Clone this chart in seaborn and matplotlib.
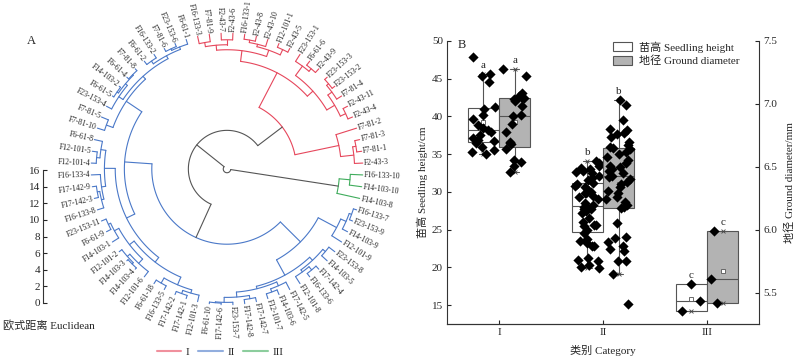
import numpy as np
import pandas as pd
import matplotlib
matplotlib.use('Agg')
import matplotlib.pyplot as plt
import matplotlib.transforms as mtransforms
from matplotlib.patches import Patch
from matplotlib.lines import Line2D
import seaborn as sns

sns.set_style('ticks')
plt.rcParams['font.family'] = ['Liberation Serif', 'Noto Sans CJK SC']
plt.rcParams['font.size'] = 8
np.random.seed(7)

# ---------------- data: dendrogram (A) ----------------
# leaves clockwise, starting just below 3 o'clock
leaves = ['F16-133-10', 'F14-103-10', 'F14-103-8',
          'F16-133-7', 'F23-153-9', 'F14-103-9', 'F12-101-9', 'F23-153-8', 'F14-103-5',
          'F17-142-4', 'F16-133-6', 'F12-101-8', 'F17-142-5', 'F14-103-6', 'F12-101-7',
          'F17-142-7', 'F17-142-8', 'F23-153-7', 'F17-142-6', 'F6-61-10', 'F12-101-3',
          'F17-142-1', 'F17-142-2', 'F16-133-5', 'F6-61-18', 'F12-101-6', 'F14-103-4',
          'F14-103-3', 'F12-101-2', 'F14-103-1', 'F6-61-9', 'F23-153-11', 'F16-133-8',
          'F17-142-3', 'F17-142-9', 'F16-133-4', 'F12-101-4', 'F12-101-5', 'F6-61-8',
          'F7-81-10', 'F7-81-5', 'F23-153-4', 'F6-61-5', 'F14-103-2', 'F6-61-4',
          'F7-81-8', 'F6-61-2', 'F16-133-2', 'F7-81-6', 'F23-153-6', 'F6-61-1',
          'F16-133-3', 'F7-81-9', 'F2-43-7', 'F2-43-6', 'F16-133-1', 'F2-43-8',
          'F2-43-10', 'F12-101-1', 'F2-43-5', 'F23-153-1', 'F6-61-6', 'F2-43-9',
          'F23-153-3', 'F23-153-2', 'F7-81-4', 'F2-43-11', 'F2-43-4', 'F7-81-2',
          'F7-81-3', 'F7-81-1', 'F2-43-3']
clusters = ['III'] * 3 + ['II'] * 48 + ['I'] * 21

# merges: (left, right, euclidean height); ints are leaf indices
tree_III = ((0, 1, 1.5), 2, 2.8)

R1 = (((3, 4, 0.4), 5, 0.7), 6, 1.4)
R2a = ((7, 8, 0.9), ((9, 10, 0.5), 11, 1.0), 1.3)
R2b = ((12, (13, 14, 0.6), 1.0), ((15, 16, 0.5), (17, (18, 19, 0.2), 0.3), 0.9), 1.5)
tree_IIR = (R1, (R2a, R2b, 1.8), 3.9)

Lb1 = ((20, (21, 22, 0.4), 0.8), (23, 24, 0.5), 1.2)
Lb2 = ((25, ((26, 27, 0.2), 28, 0.4), 0.8), (29, (30, 31, 0.6), 0.9), 1.5)
Lb3 = (((32, (33, 34, 0.5), 0.8), 35, 1.1), ((36, 37, 0.6), 38, 1.0), 1.6)
Lrest = ((41, ((42, 43, 0.2), (44, 45, 0.3), 0.4), 0.7),
         ((46, 47, 0.5), ((48, 49, 0.4), 50, 0.6), 0.9), 1.3)
La = ((39, 40, 0.9), Lrest, 1.75)
tree_IIL = (((Lb1, Lb2, 2.2), Lb3, 2.9), La, 4.0)
tree_II = (tree_IIR, tree_IIL, 7.3)

A1a = ((51, 52, 0.9), (53, 54, 0.8), 1.4)
A1b = (((55, 56, 0.6), 57, 0.9), (58, 59, 0.5), 1.2)
A2a = (60, (61, 62, 0.6), 1.0)
A2b = (((63, 64, 0.4), 65, 0.7), (66, 67, 0.6), 1.3)
B = (68, ((69, 70, 0.6), 71, 1.0), 2.6)
tree_I = (((A1a, A1b, 2.0), (A2a, A2b, 2.4), 3.3), B, 8.0)

tree = (tree_III, (tree_II, tree_I, 11.7), 15.9)

# ---------------- data: boxplots (B) ----------------
cats = ['I', 'II', 'III']
height_I = [47.9, 45.6, 45.3, 44.6, 41.2, 41.0, 40.2, 39.7, 38.9, 38.5, 38.2,
            38.0, 37.6, 37.2, 36.9, 36.7, 36.5, 35.9, 35.5, 35.3, 35.0]
height_II = [19.9, 20.0, 20.3, 20.8, 21.0, 21.3, 22.8, 22.9, 23.2, 23.5, 23.8, 24.6,
             25.0, 25.5, 25.6, 25.6, 26.0, 26.6, 27.2, 27.5, 27.7, 27.8, 28.0, 28.1,
             28.3, 28.5, 29.0, 29.3, 29.5, 29.8, 29.9, 30.0, 30.3, 30.6, 30.8, 31.1,
             31.2, 31.6, 31.9, 32.1, 32.5, 32.7, 32.8, 33.0, 33.2, 33.5, 33.9, 34.1]
height_III = [17.8, 15.6, 14.2]
diam_I = [6.46, 6.51, 6.54, 6.55, 6.64, 6.68, 6.69, 6.70, 6.78, 6.84, 6.90,
          6.91, 6.98, 7.02, 7.04, 7.05, 7.05, 7.06, 7.09, 7.22, 7.28]
diam_II = [5.41, 5.65, 5.75, 5.75, 5.83, 5.85, 5.87, 5.90, 5.93, 5.94, 6.05, 6.17,
           6.18, 6.20, 6.22, 6.24, 6.26, 6.29, 6.31, 6.34, 6.36, 6.38, 6.40, 6.42,
           6.43, 6.45, 6.47, 6.48, 6.50, 6.51, 6.53, 6.55, 6.58, 6.60, 6.62, 6.64,
           6.65, 6.66, 6.67, 6.70, 6.74, 6.76, 6.77, 6.79, 6.80, 6.87, 6.99, 7.03]
diam_III = [5.99, 5.61, 5.42]
sig_height = ['a', 'b', 'c']
sig_diam = ['a', 'b', 'c']

# ---------------- style ----------------
pal = {'I': '#e6475c', 'II': '#4a78c8', 'III': '#3fac5c'}
ROOT_C = '#555555'
EDGE = '#555555'
GRAY = '#b3b3b3'
W, H = 800, 364
PX = 8.31          # pixels per euclidean unit
R_LEAF = 16.35     # leaf radius (units)

fig = plt.figure(figsize=(W / 100, H / 100), dpi=100)

# ---------------- panel A: circular dendrogram ----------------
R_AX = 20
cx, cy = 227, 169
rpx = R_AX * PX
axd = fig.add_axes([(cx - rpx) / W, (H - cy - rpx) / H, 2 * rpx / W, 2 * rpx / H],
                   projection='polar')
axd.set_ylim(0, R_AX)
axd.set_axis_off()

theta = np.radians(-2.5 - 360 / len(leaves) * np.arange(len(leaves)))


def draw(node):
    if isinstance(node, (int, np.integer)):
        return theta[node], 0.0, {clusters[node]}
    left, right, h = node
    tl, hl, cl = draw(left)
    tr, hr, cr = draw(right)
    members = cl | cr
    color = pal[next(iter(members))] if len(members) == 1 else ROOT_C
    r = R_LEAF - h
    for t, hc in ((tl, hl), (tr, hr)):
        axd.plot([t, t], [R_LEAF - hc, r], color=color, lw=0.8)
    arc = np.linspace(tl, tr, 80)
    axd.plot(arc, np.full_like(arc, r), color=color, lw=0.8)
    return (tl + tr) / 2, h, members


draw(tree)

for t, lab in zip(theta, leaves):
    deg = (np.degrees(t) + 180) % 360 - 180
    if -90 <= deg <= 90:
        rot, ha = deg, 'left'
    else:
        rot, ha = deg + 180, 'right'
    axd.text(t, R_LEAF + 0.15, lab, rotation=rot, rotation_mode='anchor',
             ha=ha, va='center', fontsize=5.6, color='#222222')

# scale bar
axs = fig.add_axes([43 / W, (H - 303) / H, 0.02, 16 * PX / H])
axs.set_ylim(0, 16)
axs.set_yticks(range(0, 17, 2))
axs.set_xticks([])
for s in ['top', 'right', 'bottom']:
    axs.spines[s].set_visible(False)
axs.spines['left'].set_color('#333333')
axs.spines['left'].set_linewidth(0.8)
axs.tick_params(axis='y', direction='in', length=3, width=0.8, labelsize=8, pad=2)
axs.patch.set_visible(False)

fig.text(3 / W, 1 - 325 / H, '欧式距离 Euclidean', fontsize=8, va='center', ha='left')
fig.text(31 / W, 1 - 41 / H, 'A', fontsize=9, va='center', ha='center')

fig.legend(handles=[Line2D([], [], color=pal[c], lw=1.5, alpha=0.6) for c in cats],
           labels=cats, loc='center', bbox_to_anchor=(220 / W, 1 - 352 / H),
           ncol=3, frameon=False, fontsize=8, handlelength=2.2, handletextpad=0.4,
           columnspacing=0.8)

# ---------------- panel B: boxplots on twin axes ----------------
ax1 = fig.add_axes([447 / W, (H - 324) / H, 312 / W, 283 / H])
ax2 = ax1.twinx()

df_h = pd.DataFrame({'cat': np.repeat(cats, [len(height_I), len(height_II), len(height_III)]),
                     'value': height_I + height_II + height_III})
df_d = pd.DataFrame({'cat': np.repeat(cats, [len(diam_I), len(diam_II), len(diam_III)]),
                     'value': diam_I + diam_II + diam_III})


def box_stats(v):
    v = np.asarray(v, float)
    q1, med, q3 = np.percentile(v, [25, 50, 75], method='weibull')
    iqr = q3 - q1
    inner = v[(v >= q1 - 1.5 * iqr) & (v <= q3 + 1.5 * iqr)]
    return dict(med=med, q1=q1, q3=q3, whislo=inner.min(), whishi=inner.max(),
                mean=v.mean(), fliers=[])


DODGE = 0.15
xpos = np.arange(len(cats))
for ax, df, face, dx, sig in [(ax1, df_h, 'white', -DODGE, sig_height),
                              (ax2, df_d, GRAY, DODGE, sig_diam)]:
    groups = [df.loc[df['cat'] == c, 'value'].values for c in cats]
    st = [box_stats(g) for g in groups]
    ax.bxp(st, positions=xpos + dx, widths=0.3, capwidths=0.08, showmeans=True,
           patch_artist=True, manage_ticks=False,
           boxprops=dict(facecolor=face, edgecolor=EDGE, linewidth=0.8),
           medianprops=dict(color=EDGE, linewidth=0.8),
           whiskerprops=dict(color=EDGE, linewidth=0.8),
           capprops=dict(color=EDGE, linewidth=0.8),
           meanprops=dict(marker='s', markersize=2.6, markerfacecolor='white',
                          markeredgecolor=EDGE, markeredgewidth=0.6))
    # whisker-end markers
    ax.scatter(np.repeat(xpos + dx, 2), np.ravel([[s['whislo'], s['whishi']] for s in st]),
               marker='x', s=8, color='#444444', linewidths=0.6, zorder=2.5)
    shift = mtransforms.Affine2D().translate(dx, 0) + ax.transData
    sns.stripplot(data=df, x='cat', y='value', order=cats, jitter=0.12, marker='D',
                  size=5.2, color='black', linewidth=0, ax=ax, zorder=3,
                  transform=shift)
    for x, s, letter in zip(xpos + dx, st, sig):
        ax.annotate(letter, (x, s['whishi']), xytext=(0, 3), textcoords='offset points',
                    ha='center', va='bottom', fontsize=8)

ax1.set_xlim(-0.5, 2.5)
ax1.set_xticks(xpos)
ax1.set_xticklabels(cats)
ax1.set_ylim(12.5, 50)
ax1.set_yticks(range(15, 51, 5))
ax2.set_ylim(5.25, 7.5)
ax2.set_yticks([5.5, 6.0, 6.5, 7.0, 7.5])
ax2.set_yticklabels(['5.5', '6.0', '6.5', '7.0', '7.5'])
ax1.set_xlabel('类别 Category', fontsize=8, labelpad=6)
ax1.set_ylabel('苗高 Seedling height/cm', fontsize=8, labelpad=3)
ax2.set_ylabel('地径 Ground diameter/mm', fontsize=8, labelpad=5)
ax2.set_xlabel('')
for ax in (ax1, ax2):
    ax.spines['top'].set_visible(False)
    for s in ['left', 'right', 'bottom']:
        ax.spines[s].set_color('#333333')
        ax.spines[s].set_linewidth(0.8)
    ax.tick_params(direction='in', length=3, width=0.8, labelsize=8, pad=3)
ax1.spines['right'].set_visible(False)
ax2.spines['left'].set_visible(False)

ax1.text(0.035, 0.985, 'B', transform=ax1.transAxes, fontsize=9, va='center')
ax2.legend(handles=[Patch(facecolor='white', edgecolor=EDGE, linewidth=0.8),
                    Patch(facecolor=GRAY, edgecolor=EDGE, linewidth=0.8)],
           labels=['苗高 Seedling height', '地径 Ground diameter'],
           loc='upper left', bbox_to_anchor=(0.5, 1.035), frameon=False, fontsize=8,
           handlelength=1.7, handleheight=0.9, handletextpad=0.6, labelspacing=0.3)

fig.savefig('out.png', dpi=100)
